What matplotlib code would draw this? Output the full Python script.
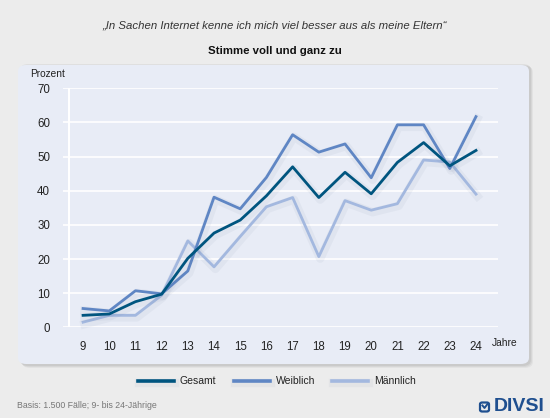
import matplotlib
matplotlib.use("Agg")
import matplotlib.pyplot as plt
import matplotlib.patheffects as pe
from matplotlib.patches import FancyBboxPatch

plt.rcParams["font.family"] = ["Liberation Sans", "DejaVu Sans"]

# ── Data ────────────────────────────────────────────────────────────────
YEARS = [9, 10, 11, 12, 13, 14, 15, 16, 17, 18, 19, 20, 21, 22, 23, 24]
GESAMT = [3.5, 3.9, 7.5, 9.7, 20.2, 27.6, 31.4, 38.5, 47.0, 38.0, 45.4, 39.1, 48.3, 54.1, 47.3, 51.8]
WEIBLICH = [5.5, 4.8, 10.7, 9.8, 16.5, 38.1, 34.7, 43.9, 56.4, 51.3, 53.7, 43.8, 59.3, 59.3, 46.5, 61.7]
MAENNLICH = [1.5, 3.5, 3.5, 9.4, 25.3, 17.7, 26.6, 35.3, 38.0, 20.7, 37.1, 34.3, 36.2, 49.0, 48.4, 39.0]
SERIES = ["Gesamt", "Weiblich", "Männlich"]
Y_TICKS = [0, 10, 20, 30, 40, 50, 60, 70]

COLORS = {"Gesamt": "#00557f", "Weiblich": "#5f86c4", "Männlich": "#a3b8df"}
LOGO = "#1f4f8f"

W, H = 550, 418
fig = plt.figure(figsize=(W / 100, H / 100), dpi=100, facecolor="#ececec")


def fx(px):
    return px / W


def fy(py):
    return 1 - py / H


# ── Panel behind chart (with soft shadow) ───────────────────────────────
for i, a in enumerate([0.05, 0.05, 0.04]):
    fig.patches.append(FancyBboxPatch(
        (fx(20 + i), fy(366 + i)), fx(511), 302 / H,
        boxstyle="round,pad=0,rounding_size=0.015", transform=fig.transFigure,
        facecolor="#000000", edgecolor="none", alpha=a, zorder=-3))
fig.patches.append(FancyBboxPatch(
    (fx(18), fy(364)), fx(511), 299 / H,
    boxstyle="round,pad=0,rounding_size=0.015", transform=fig.transFigure,
    facecolor="#e8ecf6", edgecolor="none", zorder=-2))

# ── Axes ────────────────────────────────────────────────────────────────
ax = fig.add_axes([62.5 / W, (H - 327.3) / H, (498 - 62.5) / W, 239 / H])
ax.set_zorder(2)
ax.set_facecolor("none")
ax.set_xlim(8.215, 24.84)
ax.set_ylim(0, 70)
for s in ax.spines.values():
    s.set_visible(False)

ax.set_yticks(Y_TICKS)
ax.set_yticklabels([str(t) for t in Y_TICKS], fontsize=8.3, color="#222222")
ax.set_xticks(YEARS)
ax.set_xticklabels([str(y) for y in YEARS], fontsize=8.3, color="#222222")
ax.tick_params(axis="both", length=0)
ax.tick_params(axis="y", pad=9)
ax.tick_params(axis="x", pad=10)
ax.yaxis.grid(True, color="white", lw=1.2)
ax.set_axisbelow(True)
ax.axvline(8.476, color="white", lw=1.5, zorder=1)

shadow = [pe.SimpleLineShadow(offset=(1, -1.5), shadow_color="#7080a0", alpha=0.07, linewidth=6),
          pe.Normal()]
for name, vals, z in [("Männlich", MAENNLICH, 3), ("Weiblich", WEIBLICH, 4), ("Gesamt", GESAMT, 5)]:
    ax.plot(YEARS, vals, color=COLORS[name], lw=2.0, label=name,
            path_effects=shadow, zorder=z, clip_on=False)

# ── Texts ───────────────────────────────────────────────────────────────
fig.text(fx(30), fy(74), "Prozent", fontsize=7.3, color="#222222", va="center")
fig.text(fx(492), fy(343), "Jahre", fontsize=7.4, color="#222222", va="center")
fig.text(0.5, fy(25), "\u201eIn Sachen Internet kenne ich mich viel besser aus als meine Eltern\u201c",
         fontsize=8.2, style="italic", color="#333333", ha="center", va="center")
fig.text(0.5, fy(51), "Stimme voll und ganz zu", fontsize=8.2, fontweight="bold",
         color="#111111", ha="center", va="center")

# legend drawn by hand in figure coords
leg_items = [("Gesamt", 138), ("Weiblich", 234), ("Männlich", 332)]
for name, x0 in leg_items:
    fig.add_artist(plt.Line2D([fx(x0), fx(x0 + 36)], [fy(381), fy(381)],
                              color=COLORS[name], lw=2.6, transform=fig.transFigure,
                              path_effects=shadow))
    fig.text(fx(x0 + 42), fy(381), name, fontsize=7.5, color="#222222", va="center")

fig.text(fx(17.5), fy(405), "Basis: 1.500 Fälle; 9- bis 24-Jährige", fontsize=6.3,
         color="#777777", va="center")

# DIVSI logo
fig.text(fx(545), fy(406.5), "DIVSI", fontsize=14, fontweight="bold", color=LOGO,
         ha="right", va="center")
fig.patches.append(FancyBboxPatch(
    (fx(480), fy(411.5)), fx(9), 9 / H,
    boxstyle="round,pad=0,rounding_size=0.004", transform=fig.transFigure,
    facecolor="none", edgecolor=LOGO, lw=1.6, zorder=3))
fig.add_artist(plt.Line2D([fx(482.5), fx(484.5), fx(487.5)], [fy(405.5), fy(408), fy(404)],
                          color=LOGO, lw=1.4, transform=fig.transFigure))

fig.savefig("out.png", dpi=100, facecolor=fig.get_facecolor())
